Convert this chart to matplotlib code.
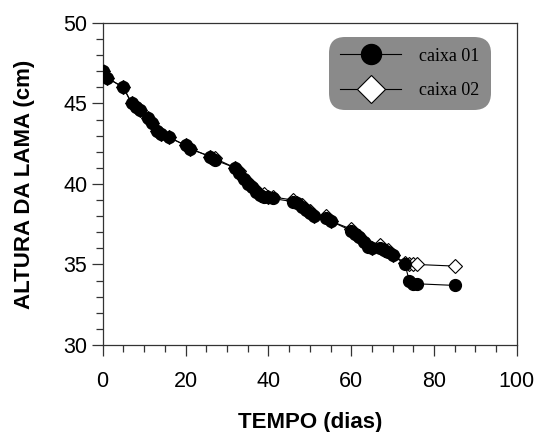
import matplotlib
matplotlib.use("Agg")
from matplotlib import pyplot as plt
from matplotlib.ticker import MultipleLocator

# days of measurement
dias = [0, 1, 5, 7, 8, 9, 11, 12, 13, 14, 16, 20, 21, 26, 27, 32, 33, 34, 35, 36,
        37, 38, 39, 40, 41, 46, 47, 48, 49, 50, 51, 54, 55, 60, 61, 62, 63, 64,
        65, 67, 68, 69, 70, 73, 74, 75, 76, 85]

# sludge height (cm)
caixa01 = [47.0, 46.6, 46.0, 45.0, 44.8, 44.6, 44.1, 43.8, 43.3, 43.1, 42.9, 42.4,
           42.2, 41.7, 41.5, 41.0, 40.7, 40.3, 40.0, 39.8, 39.5, 39.3, 39.2, 39.2,
           39.1, 38.9, 38.8, 38.6, 38.4, 38.2, 38.0, 37.9, 37.7, 37.1, 36.9, 36.7,
           36.4, 36.1, 36.0, 36.0, 35.9, 35.8, 35.6, 35.0, 34.0, 33.8, 33.8, 33.7]

caixa02 = [47.0, 46.6, 46.0, 45.0, 44.8, 44.6, 44.1, 43.8, 43.3, 43.1, 42.9, 42.4,
           42.2, 41.7, 41.6, 41.0, 40.8, 40.3, 40.1, 39.8, 39.6, 39.3, 39.4, 39.2,
           39.2, 39.0, 38.8, 38.7, 38.4, 38.3, 38.0, 38.0, 37.7, 37.2, 36.9, 36.8,
           36.4, 36.2, 36.0, 36.2, 35.9, 35.9, 35.6, 35.1, 35.0, 35.0, 35.0, 34.9]

plt.rcParams['font.family'] = ['Liberation Sans', 'DejaVu Sans']

fig = plt.figure(figsize=(5.39, 4.32), dpi=100)
ax = fig.add_axes([0.1905, 0.2014, 0.7685, 0.7454])

ax.plot(dias, caixa02, color='k', linewidth=0.8, marker='D', markersize=7.5,
        markerfacecolor='white', markeredgecolor='k', markeredgewidth=0.8,
        label='caixa 02', zorder=2)
ax.plot(dias, caixa01, color='k', linewidth=0.8, marker='o', markersize=8.5,
        markerfacecolor='k', markeredgecolor='k', label='caixa 01', zorder=3)

ax.set_xlim(0, 100)
ax.set_ylim(30, 50)
ax.xaxis.set_major_locator(MultipleLocator(20))
ax.xaxis.set_minor_locator(MultipleLocator(5))
ax.yaxis.set_major_locator(MultipleLocator(5))
ax.yaxis.set_minor_locator(MultipleLocator(1))
ax.tick_params(which='major', direction='out', length=8, width=0.9,
               labelsize=15.5, color='#333333')
ax.tick_params(which='minor', direction='out', length=4.8, width=0.9, color='#333333')
ax.tick_params(axis='x', which='major', pad=11)
ax.tick_params(axis='y', which='major', pad=3)
for s in ax.spines.values():
    s.set_color('#333333')
    s.set_linewidth(0.9)

ax.set_xlabel('TEMPO (dias)', fontsize=16, fontweight='bold', labelpad=14)
ax.set_ylabel('ALTURA DA LAMA (cm)', fontsize=16, fontweight='bold', labelpad=20)

# legend: caixa 01 first, bigger symbols than in the plot
h, l = ax.get_legend_handles_labels()
leg = ax.legend(h[::-1], l[::-1], loc='upper right', bbox_to_anchor=(0.945, 0.968),
                prop={'family': 'Liberation Serif', 'size': 13},
                handlelength=3.4, handletextpad=1.0,
                labelspacing=0.95, borderpad=0.3, fancybox=True,
                facecolor='#8a8a8a', edgecolor='none', framealpha=1)
leg.get_frame().set_boxstyle('round', pad=0.3, rounding_size=0.9)
leg.legend_handles[0].set_markersize(14.4)
leg.legend_handles[1].set_markersize(14)

fig.savefig('out.png', dpi=100)
